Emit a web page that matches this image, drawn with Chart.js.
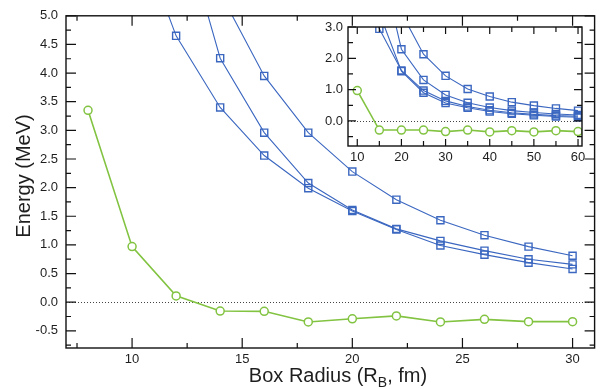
<!DOCTYPE html>
<html>
<head>
<meta charset="utf-8">
<script src="https://cdn.jsdelivr.net/npm/chart.js@4"></script>
<style>
  html, body { margin: 0; padding: 0; background: #fff; }
  #wrap { position: relative; width: 601px; height: 389px; }
  #main { position: absolute; left: 0; top: 0; }
  #inset { position: absolute; left: 300px; top: 0; }
</style>
</head>
<body>
<div id="wrap">
  <canvas id="main" width="601" height="389"></canvas>
  <canvas id="inset" width="300" height="175"></canvas>
</div>
<script>
// main panel: box radius in fm
const radii = [8, 10, 12, 14, 16, 18, 20, 22, 24, 26, 28, 30];
const greenMain = [3.35, 0.97, 0.11, -0.155, -0.16, -0.345, -0.29, -0.24, -0.345, -0.30, -0.34, -0.34];
const blueA = [null, null, null, 5.4, 3.95, 2.96, 2.28, 1.79, 1.43, 1.17, 0.97, 0.81];
const blueB = [null, null, 6.95, 4.26, 2.96, 2.08, 1.61, 1.28, 1.07, 0.90, 0.75, 0.66];
const blueC = [null, 6.7, 4.65, 3.40, 2.56, 1.99, 1.59, 1.27, 0.99, 0.83, 0.69, 0.58];
const xLabels = [10, 15, 20, 25, 30];
const yLabels = [-0.5, 0, 0.5, 1, 1.5, 2, 2.5, 3, 3.5, 4, 4.5, 5];

// inset panel
const insetRadii = [10, 15, 20, 25, 30, 35, 40, 45, 50, 55, 60];
const insetGreen = [0.97, -0.29, -0.29, -0.29, -0.34, -0.29, -0.35, -0.31, -0.35, -0.31, -0.34];
const insetA = [null, null, 3.45, 2.13, 1.44, 1.02, 0.78, 0.60, 0.49, 0.40, 0.33];
const insetB = [null, 5.3, 2.29, 1.31, 0.83, 0.58, 0.43, 0.33, 0.27, 0.22, 0.19];
const insetC = [6.0, 2.94, 1.61, 0.97, 0.64, 0.46, 0.34, 0.26, 0.21, 0.17, 0.15];
const insetD = [6.5, 3.45, 1.59, 0.90, 0.57, 0.42, 0.30, 0.23, 0.18, 0.14, 0.12];
const insetXLabels = [10, 20, 30, 40, 50, 60];
const insetYLabels = [0, 1, 2, 3];

const BLUE = '#3b67c0';
const GREEN = '#82c341';
const FONT = '"Liberation Sans", Arial, Helvetica, sans-serif';
const TEXT = '#1e1e1e';

function pts(xs, ys) {
    return xs.map((x, i) => ({ x: x, y: ys[i] })).filter(p => p.y !== null);
}

function blue(xs, ys) {
    return {
        data: pts(xs, ys),
        borderColor: BLUE,
        borderWidth: 1.1,
        pointStyle: 'rect',
        pointRadius: 5,
        pointBorderWidth: 1.4,
        pointBorderColor: BLUE,
        pointBackgroundColor: 'rgba(0,0,0,0)',
        tension: 0
    };
}

function green(xs, ys) {
    return {
        data: pts(xs, ys),
        borderColor: GREEN,
        borderWidth: 1.6,
        pointStyle: 'circle',
        pointRadius: 4,
        pointBorderWidth: 1.5,
        pointBorderColor: GREEN,
        pointBackgroundColor: '#ffffff',
        tension: 0
    };
}

function steps(from, to, step) {
    const out = [];
    for (let v = from; v <= to + 1e-9; v += step) out.push(Math.round(v * 1000) / 1000);
    return out;
}

// frame, inward tick marks on all four sides, dotted zero line
function frame(cfg) {
    return {
        id: 'frame',
        beforeDatasetsDraw(chart) {
            const { ctx, chartArea: a, scales } = chart;
            ctx.save();
            if (cfg.fill) {
                ctx.fillStyle = '#ffffff';
                ctx.fillRect(a.left, a.top, a.right - a.left, a.bottom - a.top);
            }
            const y0 = Math.round(scales.y.getPixelForValue(0)) + 0.5;
            ctx.strokeStyle = '#444';
            ctx.lineWidth = 1;
            ctx.setLineDash([1, 2]);
            ctx.beginPath();
            ctx.moveTo(a.left, y0);
            ctx.lineTo(a.right, y0);
            ctx.stroke();
            ctx.restore();
        },
        afterDatasetsDraw(chart) {
            const { ctx, chartArea: a, scales } = chart;
            ctx.save();
            ctx.strokeStyle = '#111';
            ctx.lineWidth = 1.4;
            ctx.strokeRect(a.left, a.top, a.right - a.left, a.bottom - a.top);
            ctx.lineWidth = 1.2;
            ctx.beginPath();
            cfg.xTicks.forEach(t => {
                const px = scales.x.getPixelForValue(t.v);
                ctx.moveTo(px, a.bottom); ctx.lineTo(px, a.bottom - t.len);
                ctx.moveTo(px, a.top); ctx.lineTo(px, a.top + t.len);
            });
            cfg.yTicks.forEach(t => {
                const py = scales.y.getPixelForValue(t.v);
                ctx.moveTo(a.left, py); ctx.lineTo(a.left + t.len, py);
                ctx.moveTo(a.right, py); ctx.lineTo(a.right - t.len, py);
            });
            ctx.stroke();
            if (cfg.titles) cfg.titles(ctx, a);
            ctx.restore();
        }
    };
}

function tickFont(size) {
    return { family: FONT, size: size };
}

// main chart
const mainXTicks = steps(7.5, 30, 2.5).map(v => ({ v: v, len: v % 5 === 0 ? 10 : 5 }));
const mainYTicks = steps(-0.75, 5, 0.25).map(v => ({ v: v, len: Math.abs(v * 2 - Math.round(v * 2)) < 1e-6 ? 10 : 5 }));

new Chart(document.getElementById('main'), {
    type: 'line',
    data: {
        datasets: [
            blue(radii, blueA),
            blue(radii, blueB),
            blue(radii, blueC),
            green(radii, greenMain)
        ]
    },
    options: {
        responsive: false,
        animation: false,
        devicePixelRatio: 1,
        layout: { padding: { top: 12, right: 0, bottom: 0, left: 0 } },
        plugins: { legend: { display: false }, tooltip: { enabled: false } },
        scales: {
            x: {
                type: 'linear',
                min: 7,
                max: 31,
                afterBuildTicks: s => { s.ticks = xLabels.map(v => ({ value: v })); },
                afterFit: s => { s.height = 41; },
                grid: { display: false, drawTicks: false },
                border: { display: false },
                ticks: { autoSkip: false, maxRotation: 0, font: tickFont(13), color: TEXT, padding: 4 }
            },
            y: {
                type: 'linear',
                min: -0.8,
                max: 5,
                afterBuildTicks: s => { s.ticks = yLabels.map(v => ({ value: v })); },
                afterFit: s => { s.width = 66; },
                grid: { display: false, drawTicks: false },
                border: { display: false },
                ticks: { autoSkip: false, font: tickFont(13), color: TEXT, padding: 8, callback: v => v.toFixed(1) }
            }
        }
    },
    plugins: [frame({
        xTicks: mainXTicks,
        yTicks: mainYTicks,
        titles: (ctx, a) => {
            ctx.fillStyle = TEXT;
            ctx.textBaseline = 'alphabetic';
            // y title
            ctx.save();
            ctx.translate(30, 176);
            ctx.rotate(-Math.PI / 2);
            ctx.font = '20px ' + FONT;
            ctx.textAlign = 'center';
            ctx.fillText('Energy (MeV)', 0, 0);
            ctx.restore();
            // x title with subscript
            const big = '20px ' + FONT, small = '14px ' + FONT;
            const p1 = 'Box Radius (R', p2 = 'B', p3 = ', fm)';
            ctx.font = big;
            const w1 = ctx.measureText(p1).width, w3 = ctx.measureText(p3).width;
            ctx.font = small;
            const w2 = ctx.measureText(p2).width;
            let x0 = 338 - (w1 + w2 + w3) / 2;
            const base = 382;
            ctx.textAlign = 'left';
            ctx.font = big; ctx.fillText(p1, x0, base); x0 += w1;
            ctx.font = small; ctx.fillText(p2, x0, base + 5); x0 += w2;
            ctx.font = big; ctx.fillText(p3, x0, base);
        }
    })]
});

// inset chart
const insetXTicks = steps(10, 60, 5).map(v => ({ v: v, len: v % 10 === 0 ? 7 : 5 }));
const insetYTicks = steps(-0.5, 3, 0.5).map(v => ({ v: v, len: Number.isInteger(v) ? 8 : 5 }));

new Chart(document.getElementById('inset'), {
    type: 'line',
    data: {
        datasets: [
            blue(insetRadii, insetA),
            blue(insetRadii, insetB),
            blue(insetRadii, insetC),
            blue(insetRadii, insetD),
            green(insetRadii, insetGreen)
        ]
    },
    options: {
        responsive: false,
        animation: false,
        devicePixelRatio: 1,
        layout: { padding: { top: 27, right: 18, bottom: 0, left: 0 } },
        plugins: { legend: { display: false }, tooltip: { enabled: false } },
        scales: {
            x: {
                type: 'linear',
                min: 7.9,
                max: 60.9,
                afterBuildTicks: s => { s.ticks = insetXLabels.map(v => ({ value: v })); },
                afterFit: s => { s.height = 29; },
                grid: { display: false, drawTicks: false },
                border: { display: false },
                ticks: { autoSkip: false, maxRotation: 0, font: tickFont(13), color: TEXT, padding: 4 }
            },
            y: {
                type: 'linear',
                min: -0.8,
                max: 3,
                afterBuildTicks: s => { s.ticks = insetYLabels.map(v => ({ value: v })); },
                afterFit: s => { s.width = 48; },
                grid: { display: false, drawTicks: false },
                border: { display: false },
                ticks: { autoSkip: false, font: tickFont(13), color: TEXT, padding: 5, callback: v => v.toFixed(1) }
            }
        }
    },
    plugins: [frame({ fill: true, xTicks: insetXTicks, yTicks: insetYTicks })]
});
</script>
</body>
</html>
